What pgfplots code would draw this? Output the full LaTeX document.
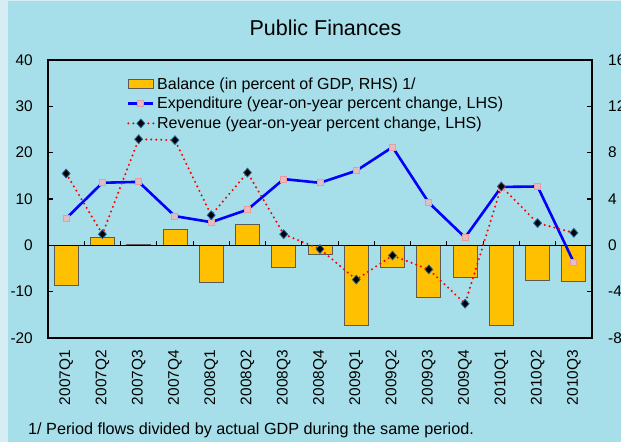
\documentclass[border=0pt]{standalone}
\usepackage{fontspec}
\setmainfont{Liberation Sans}
\usepackage{pgfplots}
\usepackage{pgfplotstable}
\pgfplotsset{compat=1.18}

\definecolor{bgmain}{RGB}{166,223,233}
\definecolor{bgstrip}{RGB}{214,238,243}
\definecolor{barfill}{RGB}{255,192,0}
\definecolor{bardraw}{RGB}{90,90,90}
\definecolor{expcol}{RGB}{0,0,255}
\definecolor{expmark}{RGB}{232,155,160}
\definecolor{expmarkfill}{RGB}{226,190,196}
\definecolor{revcol}{RGB}{255,0,0}
\definecolor{revedge}{RGB}{40,100,160}
\definecolor{framegray}{RGB}{95,115,120}

% quarters 0..14 = 2007Q1..2010Q3; bal on RHS, exp/rev on LHS
\pgfplotstableread{
q   bal    exp   rev
0  -3.45   5.8  15.5
1   0.66  13.5   2.4
2   0.05  13.7  22.9
3   1.36   6.3  22.7
4  -3.17   5.0   6.5
5   1.79   7.7  15.7
6  -1.93  14.3   2.4
7  -0.78  13.5  -0.8
8  -6.94  16.1  -7.4
9  -1.87  21.2  -2.2
10 -4.52   9.2  -5.2
11 -2.79   1.7 -12.6
12 -6.94  12.6  12.7
13 -3.05  12.7   4.8
14 -3.11  -3.7   2.7
}\pubfin

\pgfplotsset{
  pfcommon/.style={
    at={(48pt,104pt)}, anchor=south west,
    scale only axis, width=544pt, height=278pt,
    xmin=-0.5, xmax=14.5,
    tick align=inside,
    major tick length=5pt,
    tick style={black, line width=1.1pt},
    /pgf/number format/assume math mode=true,
    every tick label/.append style={font=\fontsize{15.4}{18}\selectfont},
  },
  lineleg/.style={legend image code/.code={
    \draw[mark repeat=2, mark phase=2, ##1] plot coordinates {(0pt,0pt) (12.5pt,0pt) (25pt,0pt)};}},
}

\begin{document}
\begin{tikzpicture}
\fill[bgstrip] (0pt,0pt) rectangle (621pt,442pt);
\fill[bgmain] (8pt,0pt) rectangle (621pt,441pt);
\useasboundingbox (0pt,0pt) rectangle (621pt,442pt);

\node[font=\fontsize{21.5}{24}\selectfont] at (325.5pt,414pt) {Public Finances};
\node[anchor=base west, inner sep=0pt, font=\fontsize{16.2}{19}\selectfont] at (28pt,8pt)
  {1/ Period flows divided by actual GDP during the same period.};

% balance bars, right-hand scale
\begin{axis}[pfcommon,
  ymin=-8, ymax=16, ytick={-8,-4,...,16},
  ytick pos=right,
  yticklabel style={anchor=west, inner sep=0pt, xshift=16pt},
  xtick=\empty,
  axis line style={draw=none},
  ybar, bar width=24pt,
]
\addplot[fill=barfill, draw=bardraw, line width=0.8pt] table[x=q, y=bal] {\pubfin};
\end{axis}

% expenditure and revenue, left-hand scale
\begin{axis}[pfcommon,
  axis x line=box, axis y line=box,
  x axis line style={draw=framegray, line width=1.4pt, -},
  y axis line style={draw=black, line width=1.6pt, -},
  ymin=-20, ymax=40, ytick={-20,-10,...,40},
  ytick pos=left, xtick pos=bottom,
  yticklabel style={anchor=east, inner sep=0pt, xshift=-15pt},
  xtick={0,...,14},
  xticklabels={2007Q1,2007Q2,2007Q3,2007Q4,2008Q1,2008Q2,2008Q3,2008Q4,
               2009Q1,2009Q2,2009Q3,2009Q4,2010Q1,2010Q2,2010Q3},
  x tick style={draw=none},
  xticklabel style={rotate=90, anchor=east, inner sep=0pt},
  xticklabel shift=12pt,
  legend style={at={(0.145,0.948)}, anchor=north west, draw=none, fill=none,
    inner sep=0pt, row sep=1.0pt, font=\fontsize{16}{19}\selectfont,
    nodes={inner xsep=2.5pt, inner ysep=2.8pt}},
  legend cell align=left,
]
\draw[black, line width=1.5pt] (axis cs:-0.5,0) -- (axis cs:14.5,0);
\pgfplotsinvokeforeach{0.5,1.5,...,13.5}{
  \draw[black, line width=1.1pt] (axis cs:#1,0) -- ([yshift=4.5pt]axis cs:#1,0);
}
\addlegendimage{legend image code/.code={
  \draw[fill=barfill, draw=bardraw, line width=0.8pt] (0pt,-4.5pt) rectangle (25pt,4.5pt);}}
\addlegendentry{Balance (in percent of GDP, RHS) 1/}
\addplot[lineleg, expcol, line width=2.6pt, mark=square*, mark size=3pt,
  mark options={fill=expmarkfill, draw=expmark, line width=0.9pt}]
  table[x=q, y=exp] {\pubfin};
\addlegendentry{Expenditure (year-on-year percent change, LHS)}
\addplot[lineleg, revcol, line width=2.3pt, line cap=round, dash pattern=on 0pt off 5pt,
  mark=diamond*, mark size=4.4pt,
  mark options={solid, xscale=1.2, fill=black, draw=revedge, line width=0.8pt}]
  table[x=q, y=rev] {\pubfin};
\addlegendentry{Revenue (year-on-year percent change, LHS)}
\end{axis}
\end{tikzpicture}
\end{document}
